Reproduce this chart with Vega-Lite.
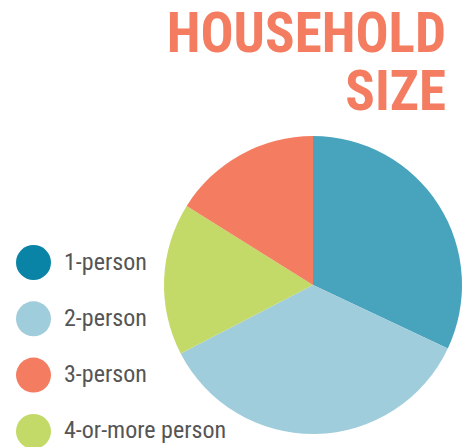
{
  "$schema": "https://vega.github.io/schema/vega-lite/v6.json",
  "width": 302,
  "height": 302,
  "autosize": {"type": "none"},
  "padding": {"left": 162, "top": 134, "right": 1, "bottom": 11},
  "background": "white",
  "title": {
    "text": ["HOUSEHOLD", "SIZE"],
    "orient": "top",
    "anchor": "end",
    "frame": "group",
    "font": "Roboto Condensed, Arial Narrow, Nimbus Sans Narrow, DejaVu Sans Condensed, sans-serif",
    "fontWeight": "bold",
    "fontSize": 55,
    "lineHeight": 58,
    "color": "#F37C61",
    "dx": -18,
    "offset": 12.5
  },
  "data": {
    "values": [
      {"category": "1-person", "value": 32.0, "order": 1},
      {"category": "2-person", "value": 35.4, "order": 2},
      {"category": "4-or-more person", "value": 16.5, "order": 3},
      {"category": "3-person", "value": 16.1, "order": 4}
    ]
  },
  "mark": {"type": "arc", "radius": 149},
  "encoding": {
    "theta": {"field": "value", "type": "quantitative", "stack": true},
    "order": {"field": "order", "type": "quantitative"},
    "color": {
      "field": "category",
      "type": "nominal",
      "scale": {
        "domain": ["1-person", "2-person", "3-person", "4-or-more person"],
        "range": ["#0A84A6", "#A0CDDC", "#F37C61", "#C3DA68"]
      },
      "legend": {
        "title": null,
        "orient": "none",
        "legendX": -146,
        "legendY": 111,
        "padding": 0,
        "symbolType": "circle",
        "symbolSize": 1225,
        "symbolStrokeWidth": 0,
        "symbolOpacity": 1,
        "rowPadding": 21.3,
        "labelOffset": 13,
        "labelFont": "Roboto Condensed, Arial Narrow, Nimbus Sans Narrow, DejaVu Sans Condensed, sans-serif",
        "labelFontSize": 24,
        "labelColor": "#555555",
        "labelLimit": 300
      }
    },
    "fillOpacity": {
      "condition": {"test": "datum.category === '1-person'", "value": 0.745},
      "value": 1
    }
  }
}
